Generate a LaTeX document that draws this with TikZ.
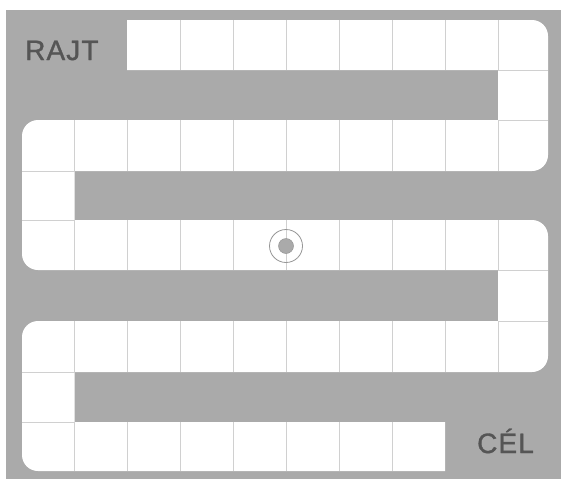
\documentclass[tikz,border=0pt]{standalone}
\usepackage{fontspec}
\newfontfamily\labelfont[FakeBold=1.2,LetterSpace=4]{Liberation Sans}
\definecolor{bggray}{RGB}{170,170,170}
\definecolor{gridgray}{RGB}{208,208,208}
\definecolor{textgray}{RGB}{85,85,85}
\definecolor{ringgray}{RGB}{150,150,150}
\tikzset{
  gridline/.style={draw=gridgray, line width=0.9pt},
  boardlabel/.style={text=textgray, font=\labelfont\fontsize{28}{30}\selectfont, inner sep=0pt, anchor=base west}
}
\begin{document}
\begin{tikzpicture}[x=1pt,y=-1pt]
\useasboundingbox (0,0) rectangle (561,479);
\fill[white] (0,0) rectangle (561,479);
\fill[bggray] (6,10) rectangle (561,479);
% white snake path
\fill[white] (127,20) -- (532,20) .. controls (540.8,20) and (548,27.2) .. (548,36)
  -- (548,155) .. controls (548,163.8) and (540.8,171) .. (532,171)
  -- (74.5,171) -- (74.5,220)
  -- (532,220) .. controls (540.8,220) and (548,227.2) .. (548,236)
  -- (548,356) .. controls (548,364.8) and (540.8,372) .. (532,372)
  -- (74.5,372) -- (74.5,422) -- (445,422) -- (445,471)
  -- (38,471) .. controls (29.2,471) and (22,463.8) .. (22,455)
  -- (22,337) .. controls (22,328.2) and (29.2,321) .. (38,321)
  -- (498,321) -- (498,270)
  -- (38,270) .. controls (29.2,270) and (22,262.8) .. (22,254)
  -- (22,136) .. controls (22,127.2) and (29.2,120) .. (38,120)
  -- (498,120) -- (498,70) -- (127,70) -- cycle;
% grid lines
\foreach \x in {180,233,286,339,392,445,498} \draw[gridline] (\x,20) -- (\x,70);
\foreach \x in {74.5,127,180,233,286,339,392,445,498} {
  \draw[gridline] (\x,120) -- (\x,171);
  \draw[gridline] (\x,220) -- (\x,270);
  \draw[gridline] (\x,321) -- (\x,372);
}
\foreach \x in {74.5,127,180,233,286,339,392} \draw[gridline] (\x,422) -- (\x,471);
\foreach \y in {70,120,270,321} \draw[gridline] (498,\y) -- (548,\y);
\foreach \y in {171,220,372,422} \draw[gridline] (22,\y) -- (74.5,\y);
% target
\draw[ringgray, line width=0.8pt] (286,246) circle[radius=16.5];
\fill[bggray, draw=ringgray, line width=0.5pt] (286,246) circle[radius=7.5];
% labels
\node[boardlabel] (start) at (25,60) {RAJT};
\node[boardlabel] (goal) at (477,453) {CÉL};
\end{tikzpicture}
\end{document}
